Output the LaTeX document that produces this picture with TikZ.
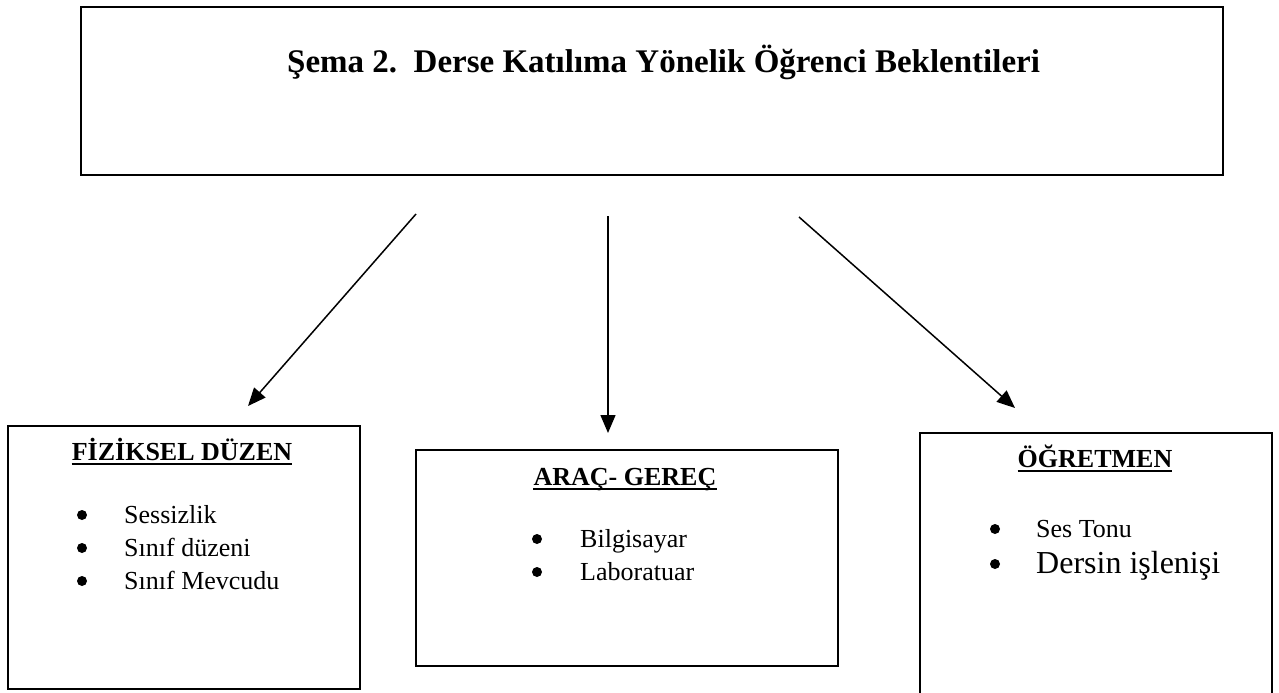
\documentclass[tikz,border=0pt]{standalone}
\usepackage{fontspec}
\setmainfont{Liberation Serif}
\usepackage{xcolor}
\usetikzlibrary{arrows.meta}
\usetikzlibrary{positioning}
\usetikzlibrary{calc}

\begin{document}
\begin{tikzpicture}[x=1pt, y=-1pt,
	panel/.style={draw=black, line width=2pt, anchor=north west, inner sep=0pt},
	heading/.style={inner sep=0pt, anchor=base, font=\fontsize{26}{33}\selectfont\bfseries},
	entry/.style={inner sep=0pt, anchor=base west, font=\fontsize{26}{33}\selectfont},
	dot/.style={circle, fill=black, inner sep=0pt, minimum size=10pt},
	uline/.style={line width=2pt},
	link/.style={line width=1.5pt, -{Triangle[length=18pt,width=15pt]}}]

\useasboundingbox (0,0) rectangle (1279,693);

% Sema basligi
\node[panel, minimum width=1142pt, minimum height=168pt] (head) at (80,6) {};
\node[inner sep=0pt, anchor=base west, font=\fontsize{33}{40}\selectfont\bfseries] (title) at (287,73) {Şema 2.\ \ Derse Katılıma Yönelik Öğrenci Beklentileri};

% Fiziksel duzen
\node[panel, minimum width=352pt, minimum height=263pt] (fizik) at (7,425) {};
\node[heading] (fizikh) at (182,460) {FİZİKSEL DÜZEN};
\draw[uline] ([yshift=-4pt]fizikh.base west) -- ([yshift=-4pt]fizikh.base east);
\node[dot] (f1d) at (82,515) {};
\node[entry] (f1) at (124,523) {Sessizlik};
\node[dot] (f2d) at (82,548) {};
\node[entry] (f2) at (124,556) {Sınıf düzeni};
\node[dot] (f3d) at (82,581) {};
\node[entry] (f3) at (124,589) {Sınıf Mevcudu};

% Arac gerec
\node[panel, minimum width=422pt, minimum height=216pt] (arac) at (415,449) {};
\node[heading] (arach) at (625,485) {ARAÇ- GEREÇ};
\draw[uline] ([yshift=-4pt]arach.base west) -- ([yshift=-4pt]arach.base east);
\node[dot] (a1d) at (537,539) {};
\node[entry] (a1) at (580,547) {Bilgisayar};
\node[dot] (a2d) at (537,572) {};
\node[entry] (a2) at (580,580) {Laboratuar};

% Ogretmen
\node[panel, minimum width=352pt, minimum height=290pt] (ogret) at (919,432) {};
\node[heading] (ogreth) at (1095,467) {ÖĞRETMEN};
\draw[uline] ([yshift=-4pt]ogreth.base west) -- ([yshift=-4pt]ogreth.base east);
\node[dot] (o1d) at (995,529) {};
\node[entry] (o1) at (1036,537) {Ses Tonu};
\node[dot] (o2d) at (995,564) {};
\node[entry, font=\fontsize{32}{38}\selectfont] (o2) at (1036,573) {Dersin işlenişi};

% Oklar
\coordinate (s1) at (416,214);
\coordinate (t1) at (248,406);
\coordinate (s2) at (608,216);
\coordinate (t2) at (608,433);
\coordinate (s3) at (799,217);
\coordinate (t3) at (1015,408);
\draw[link] (s1) -- (t1);
\draw[link] (s2) -- (t2);
\draw[link] (s3) -- (t3);

\end{tikzpicture}
\end{document}
